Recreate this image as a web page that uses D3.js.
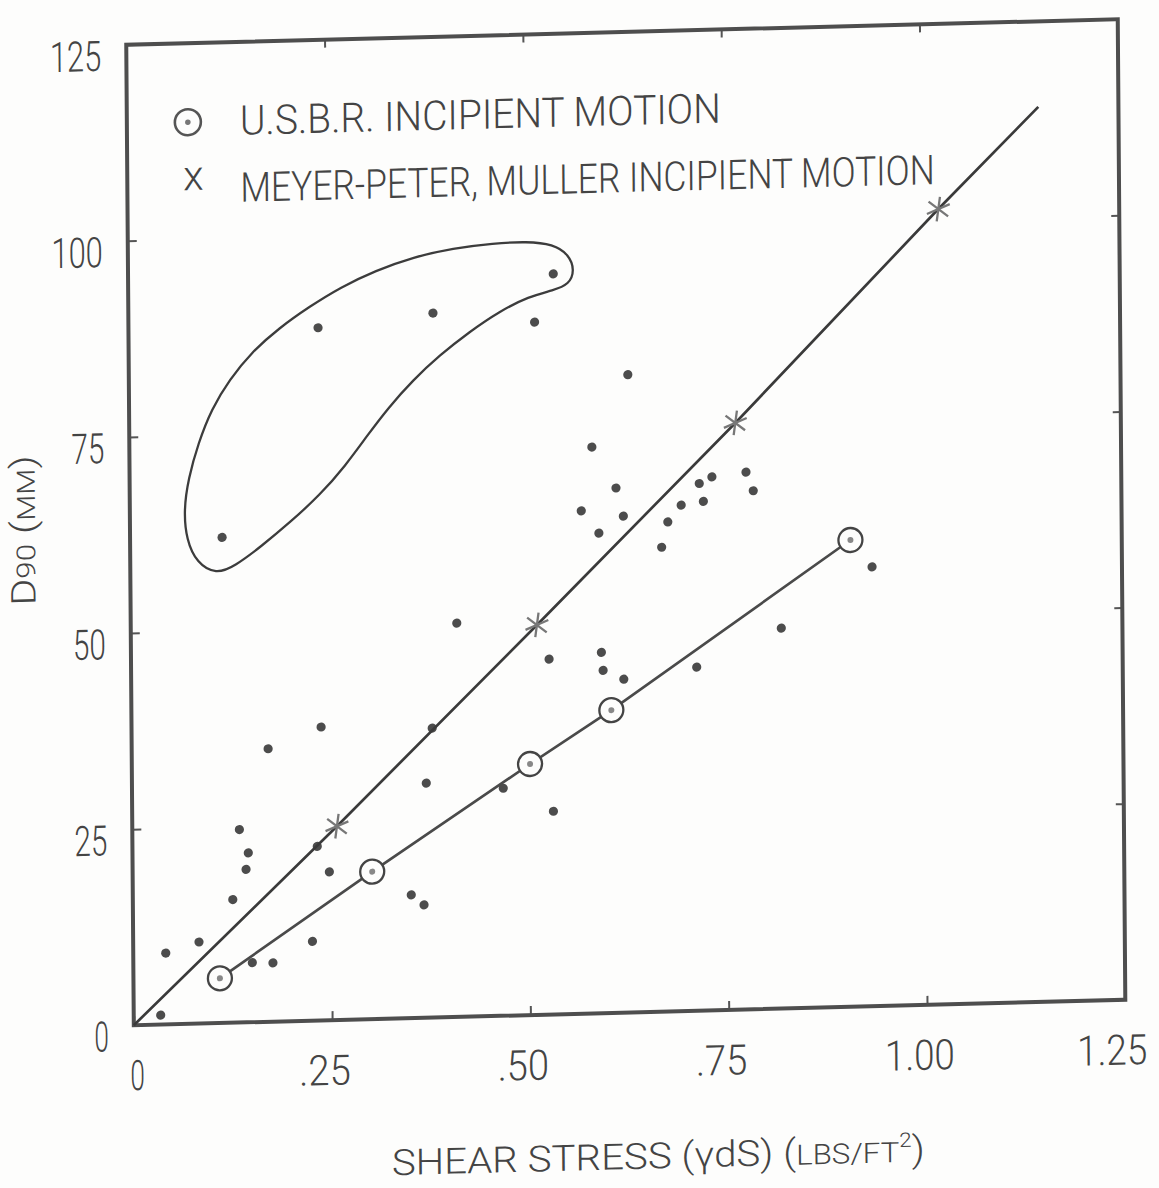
<!DOCTYPE html>
<html>
<head>
<meta charset="utf-8">
<script src="https://cdn.jsdelivr.net/npm/d3@7"></script>
<style>
  body { margin: 0; background: #fdfdfc; }
  svg { display: block; }
</style>
</head>
<body>
<svg id="chart" width="1159" height="1188"></svg>
<script>
// values: [shear stress (lbs/ft2), D90 (mm)]
const xTicks = [0, 0.25, 0.5, 0.75, 1.0, 1.25];
const xTickLabels = ["0", ".25", ".50", ".75", "1.00", "1.25"];
const yTicks = [0, 25, 50, 75, 100, 125];

// scattered field observations
const observed = [
    [0.116, 61.9], [0.239, 88.3], [0.384, 89.8], [0.512, 88.3], [0.536, 94.4],
    [0.629, 81.3], [0.583, 72.2], [0.613, 66.9], [0.569, 64.1], [0.622, 63.3],
    [0.591, 61.2], [0.734, 68.0], [0.718, 67.2], [0.777, 68.5], [0.786, 66.1],
    [0.695, 64.5], [0.723, 64.9], [0.678, 62.4], [0.670, 59.2], [0.935, 56.0],
    [0.527, 45.3], [0.593, 46.0], [0.595, 43.7], [0.621, 42.5], [0.713, 43.8],
    [0.820, 48.5], [0.411, 50.2], [0.239, 37.4], [0.172, 34.8], [0.135, 24.6],
    [0.146, 21.6], [0.143, 19.5], [0.126, 15.7], [0.083, 10.4], [0.041, 9.1],
    [0.034, 1.2], [0.379, 36.9], [0.233, 22.2], [0.248, 18.9], [0.371, 29.9],
    [0.531, 25.9], [0.468, 29.0], [0.351, 15.7], [0.367, 14.4], [0.226, 10.1],
    [0.176, 7.5], [0.150, 7.6]
];

// U.S.B.R. incipient motion (circled points)
const usbr = [[0.109, 5.7], [0.302, 18.8], [0.502, 32.0], [0.605, 38.6], [0.908, 59.5]];

// Meyer-Peter, Muller incipient motion
const meyerPoints = [[0.258, 24.7], [0.512, 49.7], [0.764, 74.8], [1.022, 101.4]];
const meyerLine = [[0, 0], ...meyerPoints, [1.149, 114.1]];

// hand drawn loop round the coarse group
const loop = [
    [0.108, 57.2], [0.084, 58.7], [0.071, 61.7], [0.068, 65.5], [0.074, 69.5],
    [0.087, 74.0], [0.104, 78.3], [0.127, 82.0], [0.155, 85.4], [0.190, 88.4],
    [0.228, 91.0], [0.268, 93.4], [0.312, 95.4], [0.360, 97.0], [0.410, 98.0],
    [0.461, 98.5], [0.503, 98.6], [0.536, 98.2], [0.556, 96.8], [0.563, 94.8],
    [0.556, 93.0], [0.536, 92.3], [0.505, 91.6], [0.468, 89.8], [0.430, 87.3],
    [0.392, 84.4], [0.358, 81.3], [0.327, 77.9], [0.300, 74.4], [0.272, 70.6],
    [0.240, 67.0], [0.202, 63.6], [0.165, 60.6], [0.132, 58.2]
];

const legendLabels = ["U.S.B.R. INCIPIENT MOTION", "MEYER-PETER, MULLER INCIPIENT MOTION"];

const W = 991.5, H = 980.5;
const ink = "#444";
const fontFamily = "Roboto, 'DejaVu Sans', sans-serif";
const paper = "#fdfdfc";

const svg = d3.select("#chart");
svg.append("rect").attr("width", 1159).attr("height", 1188).attr("fill", paper);

// the scan is a little skewed, so the plot sits in a skewed frame
const g = svg.append("g")
    .attr("transform", "matrix(1,-0.0257,0.0077,1,126.25,44.75)");

const x = d3.scaleLinear().domain([0, 1.25]).range([0, W]);
const y = d3.scaleLinear().domain([0, 125]).range([H, 0]);

// narrow typewriter-like lettering
function typed(sel, size) {
    sel.attr("font-family", fontFamily)
        .attr("font-weight", 300)
        .attr("font-size", size)
        .attr("fill", ink)
        .attr("lengthAdjust", "spacingAndGlyphs")
        .attr("textLength", function() { return this.textContent.length * 18.5 - 4; });
}

function styleTicks(axis) {
    axis.select(".domain").remove();
    axis.selectAll(".tick line").attr("stroke", "#555").attr("stroke-width", 2);
}

// axes with inward ticks
const bottomAxis = g.append("g")
    .attr("transform", `translate(0,${H})`)
    .call(d3.axisBottom(x).tickValues(xTicks).tickFormat((d, i) => xTickLabels[i])
        .tickSizeInner(-9).tickSizeOuter(0).tickPadding(35));
styleTicks(bottomAxis);
bottomAxis.selectAll("text").call(typed, 42)
    .attr("dx", d => d === 0 ? 3 : d === 1.25 ? -14 : -8);

const leftAxis = g.append("g")
    .call(d3.axisLeft(y).tickValues(yTicks).tickFormat(d3.format("d"))
        .tickSizeInner(-9).tickSizeOuter(0).tickPadding(25));
styleTicks(leftAxis);
leftAxis.selectAll("text").call(typed, 42).attr("dy", 25);

const topAxis = g.append("g")
    .call(d3.axisTop(x).tickValues(xTicks.slice(1, 5)).tickFormat("")
        .tickSizeInner(-8).tickSizeOuter(0));
styleTicks(topAxis);

const rightAxis = g.append("g")
    .attr("transform", `translate(${W},0)`)
    .call(d3.axisRight(y).tickValues(yTicks.slice(1, 5)).tickFormat("")
        .tickSizeInner(-8).tickSizeOuter(0));
styleTicks(rightAxis);

// frame
g.append("rect")
    .attr("width", W)
    .attr("height", H)
    .attr("fill", "none")
    .attr("stroke", "#4e4e4e")
    .attr("stroke-width", 4);

const line = d3.line().x(d => x(d[0])).y(d => y(d[1]));

// loop, smoothed like the pen stroke
g.append("path")
    .datum(loop)
    .attr("d", line.curve(d3.curveBasisClosed))
    .attr("fill", "none")
    .attr("stroke", "#3c3c3c")
    .attr("stroke-width", 2.3);
line.curve(d3.curveLinear);

// observations
g.append("g").selectAll("circle")
    .data(observed)
    .join("circle")
    .attr("cx", d => x(d[0]))
    .attr("cy", d => y(d[1]))
    .attr("r", 4.6)
    .attr("fill", "#4c4c4c");

// fitted lines
g.append("path")
    .datum(meyerLine)
    .attr("d", line)
    .attr("fill", "none")
    .attr("stroke", "#3a3a3a")
    .attr("stroke-width", 2.7);

g.append("path")
    .datum(usbr)
    .attr("d", line)
    .attr("fill", "none")
    .attr("stroke", "#4a4a4a")
    .attr("stroke-width", 2.7);

// U.S.B.R. markers
const rings = g.append("g").selectAll("g")
    .data(usbr)
    .join("g")
    .attr("transform", d => `translate(${x(d[0])},${y(d[1])})`);
rings.append("circle").attr("r", 12).attr("fill", paper).attr("stroke", "#444").attr("stroke-width", 2.3);
rings.append("circle").attr("r", 3).attr("fill", "#888");

// Meyer-Peter, Muller markers
g.append("g").selectAll("path")
    .data(meyerPoints)
    .join("path")
    .attr("transform", d => `translate(${x(d[0])},${y(d[1])}) rotate(8)`)
    .attr("d", d3.symbol(d3.symbolAsterisk, 430))
    .attr("fill", "none")
    .attr("stroke", "#777")
    .attr("stroke-width", 2.3);

// legend
const legend = g.append("g");
legend.append("circle").attr("cx", 61).attr("cy", 79).attr("r", 13)
    .attr("fill", "none").attr("stroke", "#555").attr("stroke-width", 2.6);
legend.append("circle").attr("cx", 61).attr("cy", 79).attr("r", 2.8).attr("fill", "#777");
legend.append("text").attr("x", 66).attr("y", 147).attr("text-anchor", "middle")
    .text("x").attr("font-family", fontFamily).attr("font-weight", 300)
    .attr("font-size", 42).attr("fill", ink);
legend.selectAll(".label")
    .data(legendLabels)
    .join("text")
    .attr("class", "label")
    .attr("x", 113)
    .attr("y", (d, i) => 93 + i * 67)
    .text(d => d)
    .call(typed, 41)
    .attr("textLength", d => d.length * 19.4 - 4);

// axis titles
const xTitle = g.append("text")
    .attr("x", 257)
    .attr("y", 1137)
    .attr("font-family", fontFamily)
    .attr("font-weight", 300)
    .attr("fill", ink)
    .attr("font-size", 36)
    .attr("textLength", 533)
    .attr("lengthAdjust", "spacingAndGlyphs");
xTitle.append("tspan").text("SHEAR STRESS (γdS) (");
xTitle.append("tspan").attr("font-size", 28).text("LBS/FT");
xTitle.append("tspan").attr("font-size", 20).attr("dy", -15).text("2");
xTitle.append("tspan").attr("dy", 15).text(")");

const yTitle = g.append("text")
    .attr("transform", "translate(-95,558) rotate(-90)")
    .attr("font-family", fontFamily)
    .attr("font-weight", 300)
    .attr("fill", ink)
    .attr("font-size", 34)
    .attr("textLength", 150)
    .attr("lengthAdjust", "spacingAndGlyphs");
yTitle.append("tspan").text("D");
yTitle.append("tspan").attr("font-size", 26).text("90");
yTitle.append("tspan").text(" (");
yTitle.append("tspan").attr("font-size", 25).text("MM");
yTitle.append("tspan").text(")");
</script>
</body>
</html>
